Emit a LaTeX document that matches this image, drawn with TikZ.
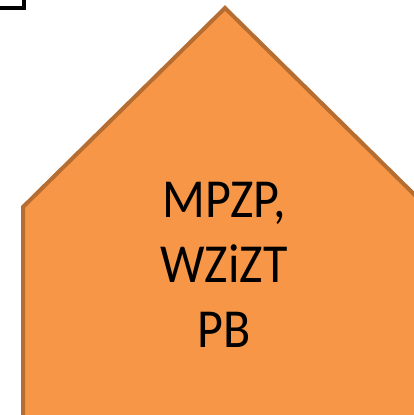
\documentclass[tikz,border=0pt]{standalone}
\usepackage{fontspec}
\setmainfont{Carlito}
\definecolor{houseFill}{HTML}{F79646}
\definecolor{houseLine}{HTML}{B66D31}
\begin{document}
\begin{tikzpicture}[x=1pt,y=1pt,
  house/.style={fill=houseFill,draw=houseLine,line width=4pt,line join=miter},
  frame/.style={draw=black,line width=3.5pt},
  label/.style={align=center,font=\fontsize{55}{65}\selectfont,text=black,
    inner sep=0pt,xscale=0.91,transform shape}]
  \useasboundingbox (0,0) rectangle (414,-415);
  % corner of a neighbouring box
  \draw[frame] (-60,60) rectangle (24,-8);
  % house-shaped pentagon
  \draw[house] (225,-8) -- (23,-207) -- (23,-417) -- (427,-417) -- (427,-207) -- cycle;
  \node[label] (txt) at (224,-265) {MPZP,\\WZiZT\\PB};
\end{tikzpicture}
\end{document}
